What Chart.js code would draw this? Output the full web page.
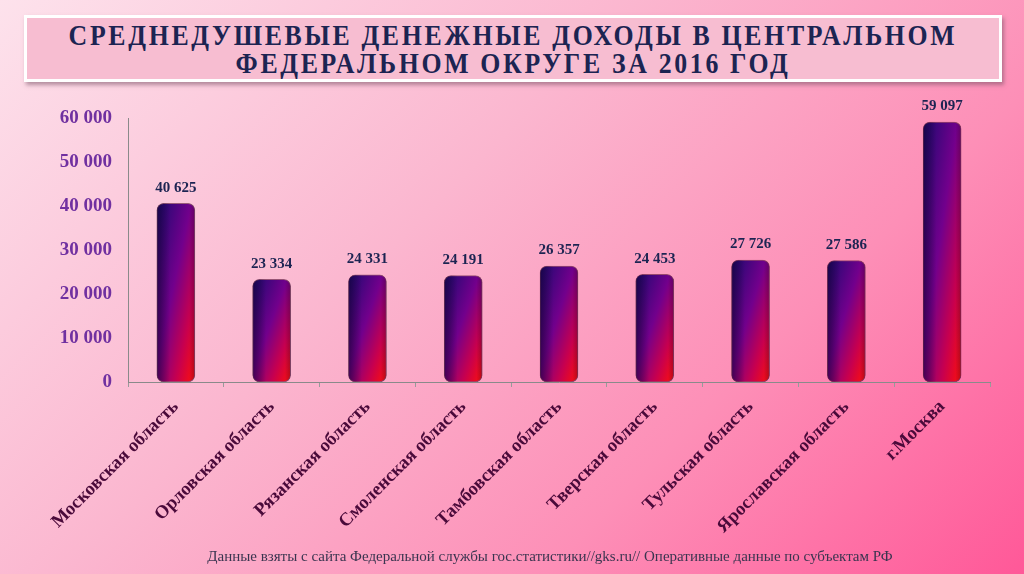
<!DOCTYPE html>
<html>
<head>
<meta charset="utf-8">
<script src="https://cdn.jsdelivr.net/npm/chart.js@4.4.1/dist/chart.umd.min.js"></script>
<style>
  html, body { margin: 0; padding: 0; }
  body {
    width: 1024px; height: 574px; overflow: hidden; position: relative;
    background: linear-gradient(135deg, #fde2ec 0%, #fbb6cf 40%, #fd8fb7 70%, #ff5898 100%);
    font-family: "Liberation Serif", "DejaVu Serif", serif;
  }
  .title {
    position: absolute; left: 24px; top: 15px; width: 972px; height: 61px;
    background: #f7bdd1;
    border: 3px solid #fff;
    box-shadow: 2px 3px 4px rgba(120,80,100,0.55);
    color: #1c2452; font-weight: bold; font-size: 29px; line-height: 28px;
  }
  .title div {
    position: absolute; left: 50%; white-space: nowrap; letter-spacing: 3px;
    transform: translateX(-50%) scaleX(0.89);
  }
  .note {
    position: absolute; left: 0; width: 1100px; top: 548px; text-align: center;
    color: #3a3550; font-size: 15px;
  }
  #wrap { position: absolute; left: 0; top: 0; width: 1024px; height: 574px; }
</style>
</head>
<body>
<div class="title">
  <div style="top:3px">СРЕДНЕДУШЕВЫЕ ДЕНЕЖНЫЕ ДОХОДЫ В ЦЕНТРАЛЬНОМ</div>
  <div style="top:31px">ФЕДЕРАЛЬНОМ ОКРУГЕ ЗА 2016 ГОД</div>
</div>
<div id="wrap"><canvas id="chart" width="1024" height="574"></canvas></div>
<div class="note">Данные взяты с сайта Федеральной службы гос.статистики//gks.ru// Оперативные данные по субъектам РФ</div>
<script>
const regions = ['Московская область', 'Орловская область', 'Рязанская область', 'Смоленская область',
  'Тамбовская область', 'Тверская область', 'Тульская область', 'Ярославская область', 'г.Москва'];
const incomes = [40625, 23334, 24331, 24191, 26357, 24453, 27726, 27586, 59097];

const fmt = v => String(v).replace(/\B(?=(\d{3})+(?!\d))/g, ' ');

// diagonal fill: dark navy top-left, purple across, red toward bottom-right
function barFill(context) {
  const chart = context.chart;
  const area = chart.chartArea;
  if (!area || context.type !== 'data') return '#6a0080';
  const xs = chart.scales.x, ys = chart.scales.y;
  const x = xs.getPixelForValue(context.dataIndex);
  const top = ys.getPixelForValue(context.raw);
  const base = ys.getPixelForValue(0);
  const h = Math.max(base - top, 1);
  const a = 76 / (1 + 1444 / (h * h));
  const b = 38 * a / h;
  const g = chart.ctx.createLinearGradient(x - 19, top, x - 19 + a, top + b);
  g.addColorStop(0, '#1a0a70');
  g.addColorStop(0.45, '#72008c');
  g.addColorStop(0.75, '#c8004e');
  g.addColorStop(1, '#ff1008');
  return g;
}

const barShade = {
  id: 'barShade',
  afterDatasetsDraw(chart) {
    const ctx = chart.ctx;
    const meta = chart.getDatasetMeta(0);
    ctx.save();
    meta.data.forEach(bar => {
      const w = bar.width, l = bar.x - w / 2;
      const g = ctx.createLinearGradient(l, 0, l + w, 0);
      g.addColorStop(0, 'rgba(20,0,40,0.55)');
      g.addColorStop(0.35, 'rgba(20,0,40,0)');
      g.addColorStop(0.85, 'rgba(20,0,40,0)');
      g.addColorStop(1, 'rgba(20,0,40,0.3)');
      ctx.fillStyle = g;
      ctx.beginPath();
      ctx.roundRect(l, bar.y, w, bar.base - bar.y, 7);
      ctx.fill();
    });
    ctx.font = 'bold 15px "Liberation Serif", serif';
    ctx.fillStyle = '#1c2452';
    ctx.textAlign = 'center';
    ctx.textBaseline = 'bottom';
    meta.data.forEach((bar, i) => {
      ctx.fillText(fmt(incomes[i]), bar.x, bar.y - 8);
    });
    ctx.restore();
  }
};

new Chart(document.getElementById('chart').getContext('2d'), {
  type: 'bar',
  data: {
    labels: regions,
    datasets: [{
      data: incomes,
      backgroundColor: barFill,
      borderColor: 'rgba(70,0,40,0.55)',
      borderWidth: 1,
      borderRadius: 7,
      borderSkipped: false,
      barThickness: 38
    }]
  },
  options: {
    responsive: false,
    animation: false,
    layout: { padding: { top: 118, right: 34, left: 0, bottom: 0 } },
    plugins: { legend: { display: false }, tooltip: { enabled: false } },
    scales: {
      y: {
        min: 0, max: 60000,
        ticks: {
          stepSize: 10000,
          padding: 16,
          color: '#7030a0',
          font: { family: '"Liberation Serif", serif', size: 19, weight: 'bold' },
          callback: v => fmt(v)
        },
        grid: { display: false, tickLength: 0 },
        border: { color: '#8a8a8a', width: 1 },
        afterFit: s => { s.width = 128; }
      },
      x: {
        ticks: {
          minRotation: 45, maxRotation: 45,
          color: '#4a0a3a',
          padding: 9,
          font: { family: '"Liberation Serif", serif', size: 18.5, weight: 'bold' }
        },
        grid: { drawOnChartArea: false, tickLength: 5, color: '#9a9a9a' },
        border: { color: '#8a8a8a', width: 1 },
        afterFit: s => { s.height = 192; }
      }
    }
  },
  plugins: [barShade]
});
</script>
</body>
</html>
